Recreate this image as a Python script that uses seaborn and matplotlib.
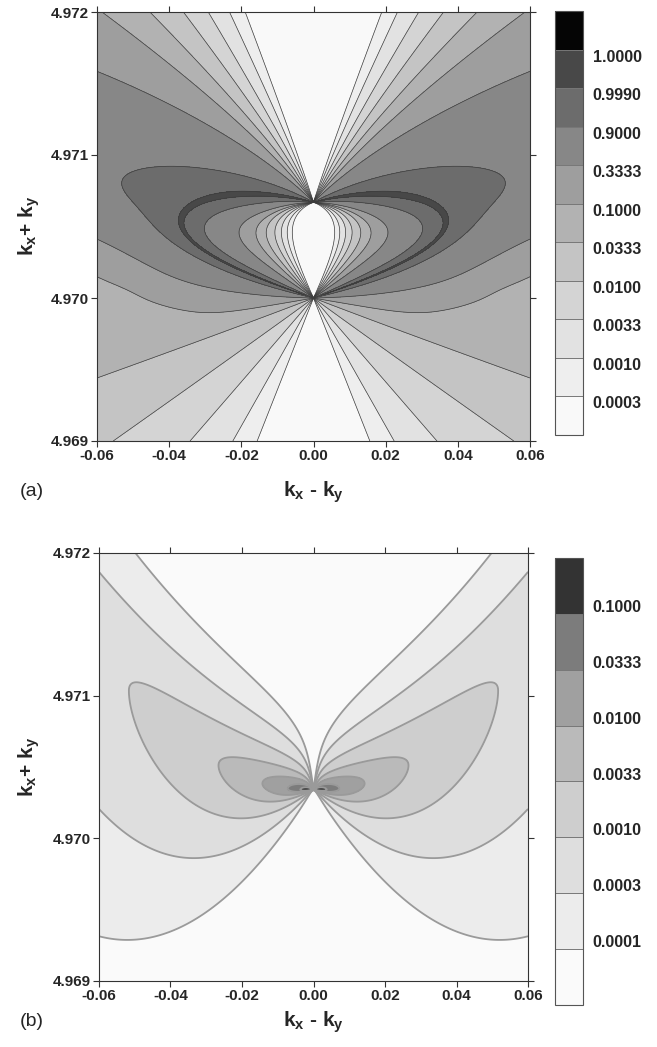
"""
Two grey-scale contour maps in the (kx - ky, kx + ky) plane with level colour bars.
"""

import matplotlib.pyplot as plt
import matplotlib.transforms as mtransforms
import numpy as np
import seaborn as sns

sns.set_style('ticks')
plt.rcParams['font.family'] = ['Liberation Sans', 'DejaVu Sans']
plt.rcParams['mathtext.fontset'] = 'custom'
plt.rcParams['mathtext.bf'] = 'Liberation Sans:bold'
plt.rcParams['mathtext.rm'] = 'Liberation Sans'

# ---------------------------------------------------------------------------
# data
# ---------------------------------------------------------------------------
x_ticks = [-0.06, -0.04, -0.02, 0.00, 0.02, 0.04, 0.06]
y_ticks = [4.969, 4.970, 4.971, 4.972]

levels_a = [0.0003, 0.0010, 0.0033, 0.0100, 0.0333, 0.1000, 0.3333, 0.9000, 0.9990, 1.0000]
levels_b = [0.0001, 0.0003, 0.0010, 0.0033, 0.0100, 0.0333, 0.1000]

# singular points (kx + ky)
point_a_low = 4.97000
point_a_high = 4.97067
point_b = 4.97034

# panel (a) field shape
scale_a = 0.082
skew_top = 0.55
skew_bot = 2.5
top_fan = (4.7, 1.367, 1.08, 2.6, 6.0)   # gain, knee, outer power, inner power, sharpness
bot_fan = (2.15, 0.181)                  # gain, tail
mid_core = (12.0, 0.10)                  # gain, tail
bump_mid = 0.47
bump_width = 0.12

# panel (b) field shape
curv_b = 0.28
slope_peak_b = -0.001
width_up_b = 0.0060
width_low_b = 0.0112
low_growth_b = 0.6
tail_b = 1.5
p_ref_b = 0.1
x_ref_b = 0.004
core_b = 0.0015

greys_a = ['#f9f9f9', '#eeeeee', '#e2e2e2', '#d4d4d4', '#c4c4c4', '#b2b2b2',
           '#9e9e9e', '#878787', '#6c6c6c', '#484848', '#050505']
greys_b = ['#fafafa', '#ececec', '#dedede', '#cecece', '#bababa', '#a0a0a0',
           '#7c7c7c', '#333333']

# ---------------------------------------------------------------------------
# fields
# ---------------------------------------------------------------------------
xs = np.linspace(-0.06, 0.06, 1201)
ys = np.linspace(4.969, 4.972, 1201)
xx, yy = np.meshgrid(xs, ys)


def field_a():
    X = np.abs(xx) / scale_a
    Y = (yy - point_a_low) / (point_a_high - point_a_low)
    a = np.arctan2(X, Y) / np.pi
    b = np.arctan2(X, Y - 1.0) / np.pi
    A = b ** skew_top * (1.0 - a) ** skew_bot
    s = np.clip(1.0 - np.abs(1.0 - 2.0 * A), 1e-9, 1.0)
    u = np.maximum(1.0 / s - 1.0, 1e-9)

    g, knee, p_out, p_in, sharp = top_fan
    lu = np.log(u / knee)
    L_top = g * (np.exp(-p_out * sharp * lu) + np.exp(-p_in * sharp * lu)) ** (-1.0 / sharp)
    L_bot = bot_fan[0] * (1.0 - s) ** 2 / s ** bot_fan[1]
    L_mid = mid_core[0] * (1.0 - s) ** 2 / s ** mid_core[1]

    w = 0.5 * (a + b)
    t = np.clip((w - 0.2) / 0.6, 0.0, 1.0)
    t = t * t * (3.0 - 2.0 * t)
    edge = (1.0 - t) * L_top + t * L_bot
    bump = np.exp(-((w - bump_mid) / bump_width) ** 2)
    L = edge + (L_mid - edge) * bump
    return np.exp(-L)


def field_b():
    X = np.maximum(np.abs(xx), 1e-7)
    D = (yy - point_b) - curv_b * X ** 2 - slope_peak_b * X
    W = np.where(D > 0, width_up_b * X,
                 width_low_b * X * (X / 0.06) ** low_growth_b)
    u = D / W
    F = (1.0 + u ** 2 / (2 * tail_b)) ** -tail_b
    R = p_ref_b * ((X ** 2 + core_b ** 2) / x_ref_b ** 2) ** (-0.9)
    return R * F


def style_axes(ax):
    ax.set_xlim(-0.06, 0.06)
    ax.set_ylim(4.969, 4.972)
    ax.set_xticks(x_ticks)
    ax.set_yticks(y_ticks)
    ax.set_xticklabels([f'{v:.2f}' for v in x_ticks], fontsize=11, fontweight='bold')
    ax.set_yticklabels([f'{v:.3f}' for v in y_ticks], fontsize=11, fontweight='bold')
    ax.tick_params(direction='out', top=True, right=True, length=4, width=0.8,
                   color='#333333', pad=2)
    for sp in ax.spines.values():
        sp.set_color('#333333')
        sp.set_linewidth(0.8)


def style_cbar(cbar, levels, fig, shift_px):
    cbar.set_ticks(levels)
    cbar.set_ticklabels([f'{v:.4f}' for v in levels])
    cbar.ax.tick_params(length=0, pad=7)
    for lbl in cbar.ax.get_yticklabels():
        lbl.set_fontsize(11.5)
        lbl.set_fontweight('bold')
        off = mtransforms.ScaledTranslation(0, shift_px / 100, fig.dpi_scale_trans)
        lbl.set_transform(lbl.get_transform() + off)
    cbar.outline.set_edgecolor('#555555')
    cbar.outline.set_linewidth(0.8)
    cbar.dividers.set_color('#777777')
    cbar.dividers.set_linewidth(0.7)


W, H = 657, 1047
fig = plt.figure(figsize=(W / 100, H / 100), dpi=100)


def px_axes(left, top, right, bottom):
    return fig.add_axes([left / W, 1 - bottom / H, (right - left) / W, (bottom - top) / H])


# panel (a)
ax_a = px_axes(97, 12, 530, 441)
P_a = field_a()
cs_a = ax_a.contourf(xx, yy, P_a, levels=[-1.0] + levels_a + [2.0], colors=greys_a)
ax_a.contour(xx, yy, P_a, levels=levels_a[:-1], colors='#3c3c3c', linewidths=0.5)
style_axes(ax_a)
cax_a = px_axes(555, 11, 583, 435)
cb_a = fig.colorbar(cs_a, cax=cax_a, drawedges=True)
style_cbar(cb_a, levels_a, fig, -6)

# panel (b)
ax_b = px_axes(99, 553, 528, 981)
P_b = field_b()
cs_b = ax_b.contourf(xx, yy, P_b, levels=[-1.0] + levels_b + [10.0], colors=greys_b)
ax_b.contour(xx, yy, P_b, levels=levels_b, colors='#9a9a9a', linewidths=1.3)
style_axes(ax_b)
cax_b = px_axes(555, 558, 583, 1005)
cb_b = fig.colorbar(cs_b, cax=cax_b, drawedges=True)
style_cbar(cb_b, levels_b, fig, 8)

# labels
for y_mid, y_lab, tag in [(226, 492, '(a)'), (767, 1022, '(b)')]:
    fig.text(29 / W, 1 - y_mid / H, r'$\mathbf{k_x}$+ $\mathbf{k_y}$', rotation=90,
             ha='center', va='center', fontsize=15, fontweight='bold')
    fig.text(313 / W, 1 - y_lab / H, r'$\mathbf{k_x}$ - $\mathbf{k_y}$',
             ha='center', va='center', fontsize=15, fontweight='bold')
    fig.text(20 / W, 1 - y_lab / H, tag, ha='left', va='center', fontsize=14)

fig.savefig('out.png', dpi=100)
print("Saved: out.png")
